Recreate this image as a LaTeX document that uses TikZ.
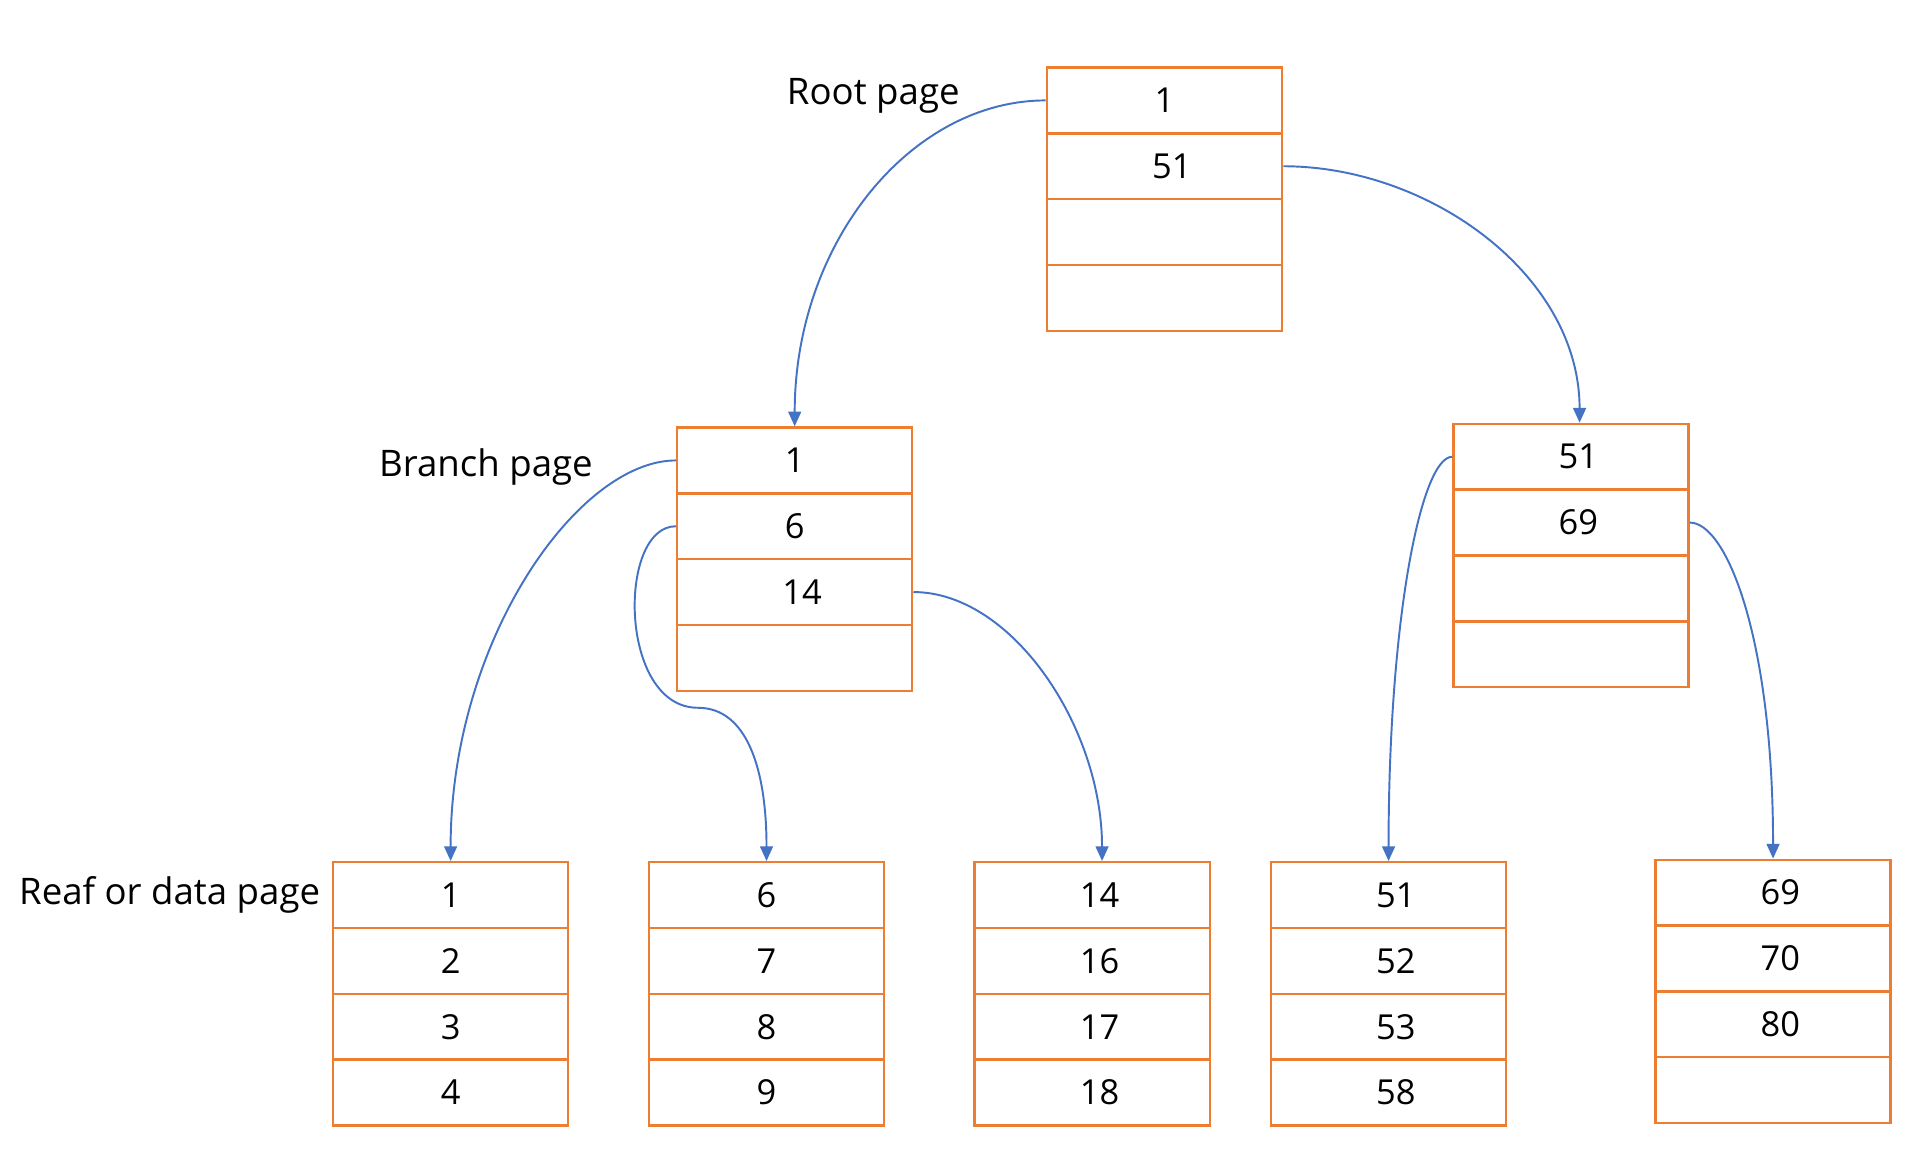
\documentclass[tikz,border=0pt]{standalone}
\usepackage{fontspec}
\setmainfont{Open Sans}
\usetikzlibrary{arrows.meta}
\definecolor{cellorange}{HTML}{ED7D31}
\definecolor{linkblue}{HTML}{4472C4}
\newcommand{\twod}[1]{\hspace*{0.12cm}#1}
\tikzset{
  cell/.style={draw=cellorange, line width=0.55pt, minimum width=1.92cm, minimum height=0.5375cm, inner sep=0pt, font=\fontsize{8}{9}\selectfont},
  lbl/.style={anchor=base west, inner sep=0pt, font=\fontsize{8.5}{10}\selectfont},
  link/.style={draw=linkblue, line width=0.45pt, -{Triangle[length=0.12cm,width=0.105cm]}}
}
\begin{document}
\begin{tikzpicture}[x=0.01cm,y=-0.01cm]
\useasboundingbox[fill=white] (0,0) rectangle (1568,956);
% labels
\node[lbl] (lroot) at (642,85) {Root page};
\node[lbl] (lbranch) at (309,389) {Branch page};
\node[lbl] (lleaf) at (15,739) {Reaf or data page};
% root
\node[cell] (r1) at (951,82) {1};
\node[cell] (r2) at (951,135.75) {\twod{51}};
\node[cell] (r3) at (951,189.5) {};
\node[cell] (r4) at (951,243.25) {};
% branch left
\node[cell] (bl1) at (649,376) {1};
\node[cell] (bl2) at (649,429.75) {6};
\node[cell] (bl3) at (649,483.5) {\twod{14}};
\node[cell] (bl4) at (649,537.25) {};
% branch right
\node[cell] (br1) at (1283,373) {\twod{51}};
\node[cell] (br2) at (1283,426.75) {\twod{69}};
\node[cell] (br3) at (1283,480.5) {};
\node[cell] (br4) at (1283,534.25) {};
% leaves
\node[cell] (la1) at (368,731) {1};
\node[cell] (la2) at (368,784.75) {2};
\node[cell] (la3) at (368,838.5) {3};
\node[cell] (la4) at (368,892.25) {4};
\node[cell] (lb1) at (626,731) {6};
\node[cell] (lb2) at (626,784.75) {7};
\node[cell] (lb3) at (626,838.5) {8};
\node[cell] (lb4) at (626,892.25) {9};
\node[cell] (lc1) at (892,731) {\twod{14}};
\node[cell] (lc2) at (892,784.75) {\twod{16}};
\node[cell] (lc3) at (892,838.5) {\twod{17}};
\node[cell] (lc4) at (892,892.25) {\twod{18}};
\node[cell] (ld1) at (1134,731) {\twod{51}};
\node[cell] (ld2) at (1134,784.75) {\twod{52}};
\node[cell] (ld3) at (1134,838.5) {\twod{53}};
\node[cell] (ld4) at (1134,892.25) {\twod{58}};
\node[cell] (le1) at (1448,729) {\twod{69}};
\node[cell] (le2) at (1448,782.75) {\twod{70}};
\node[cell] (le3) at (1448,836.5) {\twod{80}};
\node[cell] (le4) at (1448,890.25) {};
\coordinate (bend) at (570,578);
% links
\draw[link] (r1.west) .. controls +(-110,0) and +(0,-150) .. (bl1.north);
\draw[link] (r2.east) .. controls +(120,0) and +(0,-120) .. ([xshift=0.07cm]br1.north);
\draw[link] (bl1.west) .. controls +(-80,0) and +(0,-180) .. (la1.north);
\draw[link] (bl2.west) .. controls +(-48,0) and +(-65,0) .. (bend) .. controls +(40,0) and +(0,-75) .. (lb1.north);
\draw[link] (bl3.east) .. controls +(80,0) and +(0,-110) .. ([xshift=0.08cm]lc1.north);
\draw[link] (br1.west) .. controls +(-25,0) and +(0,-200) .. (ld1.north);
\draw[link] (br2.east) .. controls +(30,0) and +(0,-180) .. (le1.north);
\end{tikzpicture}
\end{document}
